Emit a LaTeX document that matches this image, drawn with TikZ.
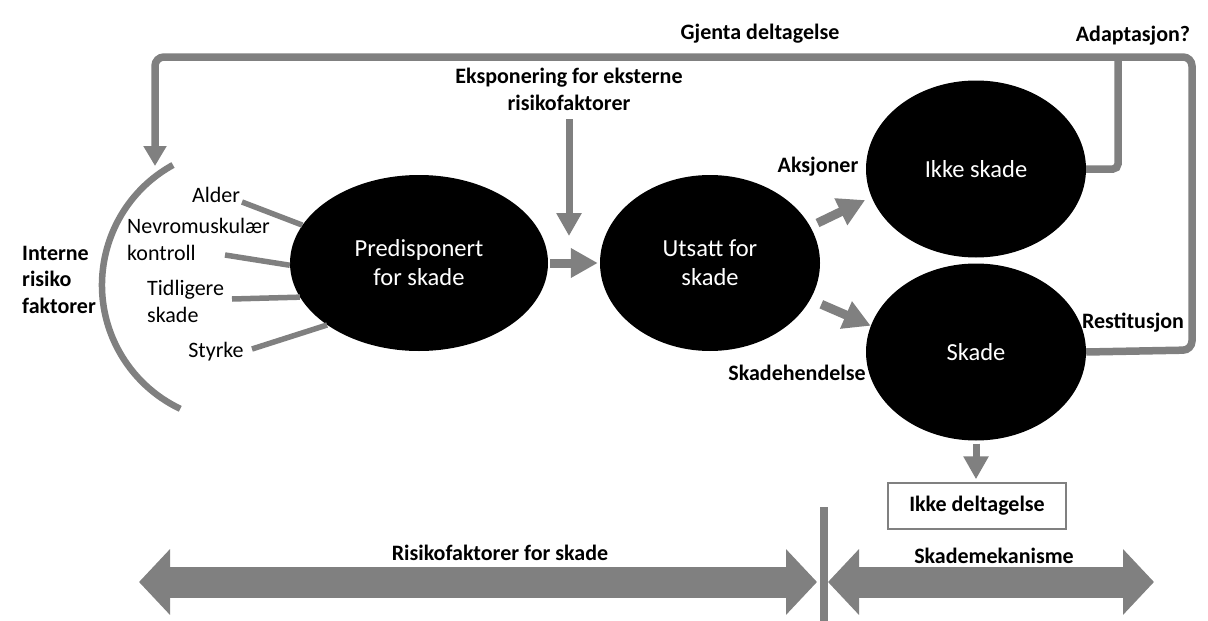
\documentclass[tikz,border=0pt]{standalone}
\usepackage{fontspec}
\setmainfont{Carlito}
\usetikzlibrary{arrows.meta,shapes.geometric}
\definecolor{arrgray}{RGB}{128,128,128}
\begin{document}
\begin{tikzpicture}[x=1pt,y=-1pt,
  blob/.style={ellipse, fill=black, inner sep=0pt, text=white, align=center,
    minimum width=220pt, minimum height=177pt, font=\fontsize{24.5}{29}\selectfont},
  lbl/.style={inner sep=0pt, font=\fontsize{22}{27}\selectfont\bfseries},
  factor/.style={inner sep=0pt, font=\fontsize{22}{27}\selectfont},
  link/.style={draw=arrgray, line width=5.5pt},
  loopline/.style={draw=arrgray, line width=7.5pt, rounded corners=9pt},
  fat/.style={draw=arrgray, line width=9pt, -{Triangle[width=28pt,length=27pt]}},
  slim/.style={draw=arrgray, line width=7pt, -{Triangle[width=24pt,length=23pt]}},
  band/.style={draw=arrgray, line width=31pt,
    {Triangle[width=64pt,length=31pt]}-{Triangle[width=64pt,length=31pt]}},
]
\useasboundingbox (0,0) rectangle (1208,621);
\fill[white] (0,0) rectangle (1208,621);

% main states
\node[blob, minimum width=258pt, minimum height=176pt] (pre) at (419,263) {Predisponert\\for skade};
\node[blob, minimum height=176pt] (uts) at (710,263) {Utsatt for\\skade};
\node[blob] (ikke) at (976,169) {Ikke skade};
\node[blob] (skade) at (976,352) {Skade};

% outcome box
\node[draw=arrgray, line width=1.5pt, minimum width=178pt, minimum height=46pt,
  inner sep=0pt, font=\fontsize{22}{27}\selectfont\bfseries] (ikkedelt) at (977,506) {Ikke deltagelse};

% labels
\node[lbl, anchor=base] (gjenta) at (760,39) {Gjenta deltagelse};
\node[lbl, anchor=base] (adapt) at (1133,41) {Adaptasjon?};
\node[lbl, align=center] (eksp) at (569,91.1) {\strut Eksponering for eksterne\\risikofaktorer\strut};
\node[lbl, anchor=base] (aksj) at (818,172) {Aksjoner};
\node[lbl, anchor=base] (hend) at (797,380) {Skadehendelse};
\node[lbl, anchor=base] (rest) at (1133,328) {Restitusjon};
\node[lbl, anchor=base] (risk) at (500,560) {Risikofaktorer for skade};
\node[lbl, anchor=base] (mek) at (994,563) {Skademekanisme};
\node[lbl, align=left, anchor=west, font=\fontsize{22}{26.5}\selectfont\bfseries] (intern) at (22,281.2) {\strut Interne\\risiko\\faktorer\strut};

% internal risk factors
\node[factor, anchor=base] (alder) at (216,202) {Alder};
\node[factor, align=left, anchor=west] (nevro) at (127,241.1) {\strut Nevromuskulær\\kontroll\strut};
\node[factor, align=left, anchor=west] (tidl) at (147,303.1) {\strut Tidligere\\skade\strut};
\node[factor, anchor=base] (styrke) at (216,357) {Styrke};

\coordinate (a1) at (242,202);
\coordinate (a2) at (225,255);
\coordinate (a3) at (232,299);
\coordinate (a4) at (252,349);
\draw[link] (a1) -- (pre.162.7);
\draw[link] (a2) -- (pre.181);
\draw[link] (a3) -- (pre.196.8);
\draw[link] (a4) -- (pre.214.8);

% bracket of internal factors
\coordinate (arcTop) at (173,165);
\draw[draw=arrgray, line width=6.5pt] (arcTop) arc[start angle=-118.8, end angle=-244.6, radius=137];

% flow arrows
\coordinate (exTip) at (569,236);
\draw[slim, shorten <=1pt] (eksp.south) -- (exTip);
\draw[fat, shorten <=2pt, shorten >=2pt] (pre.east) -- (uts.west);
\draw[fat, shorten <=8pt, shorten >=7pt] (uts.20) -- (ikke.195);
\draw[fat, shorten <=12pt] (uts.340) -- (skade.166);
\draw[slim, shorten <=3pt, shorten >=3pt] (skade.south) -- (skade.south |- ikkedelt.north);

% feedback loops
\coordinate (brC) at (1192,350);
\coordinate (trC) at (1192,57);
\coordinate (tlC) at (155,57);
\coordinate (arcTip) at (155,166);
\draw[loopline, -{Triangle[width=22pt,length=20pt]}] (skade.east) -- (brC) -- (trC) -- (tlC) -- (arcTip);
\coordinate (ikJoin) at (1118,169);
\coordinate (ikTop) at (1118,57);
\draw[loopline, rounded corners=5pt] (ikke.east) -- (ikJoin) -- (ikTop);

% phase bands
\coordinate (divTop) at (824,507);
\coordinate (divBot) at (824,621);
\draw[draw=arrgray, line width=8pt] (divTop) -- (divBot);
\coordinate (lbL) at (139,582);
\coordinate (lbR) at (817,582);
\coordinate (rbL) at (828,582);
\coordinate (rbR) at (1154,582);
\draw[band] (lbL) -- (lbR);
\draw[band] (rbL) -- (rbR);
\end{tikzpicture}
\end{document}
